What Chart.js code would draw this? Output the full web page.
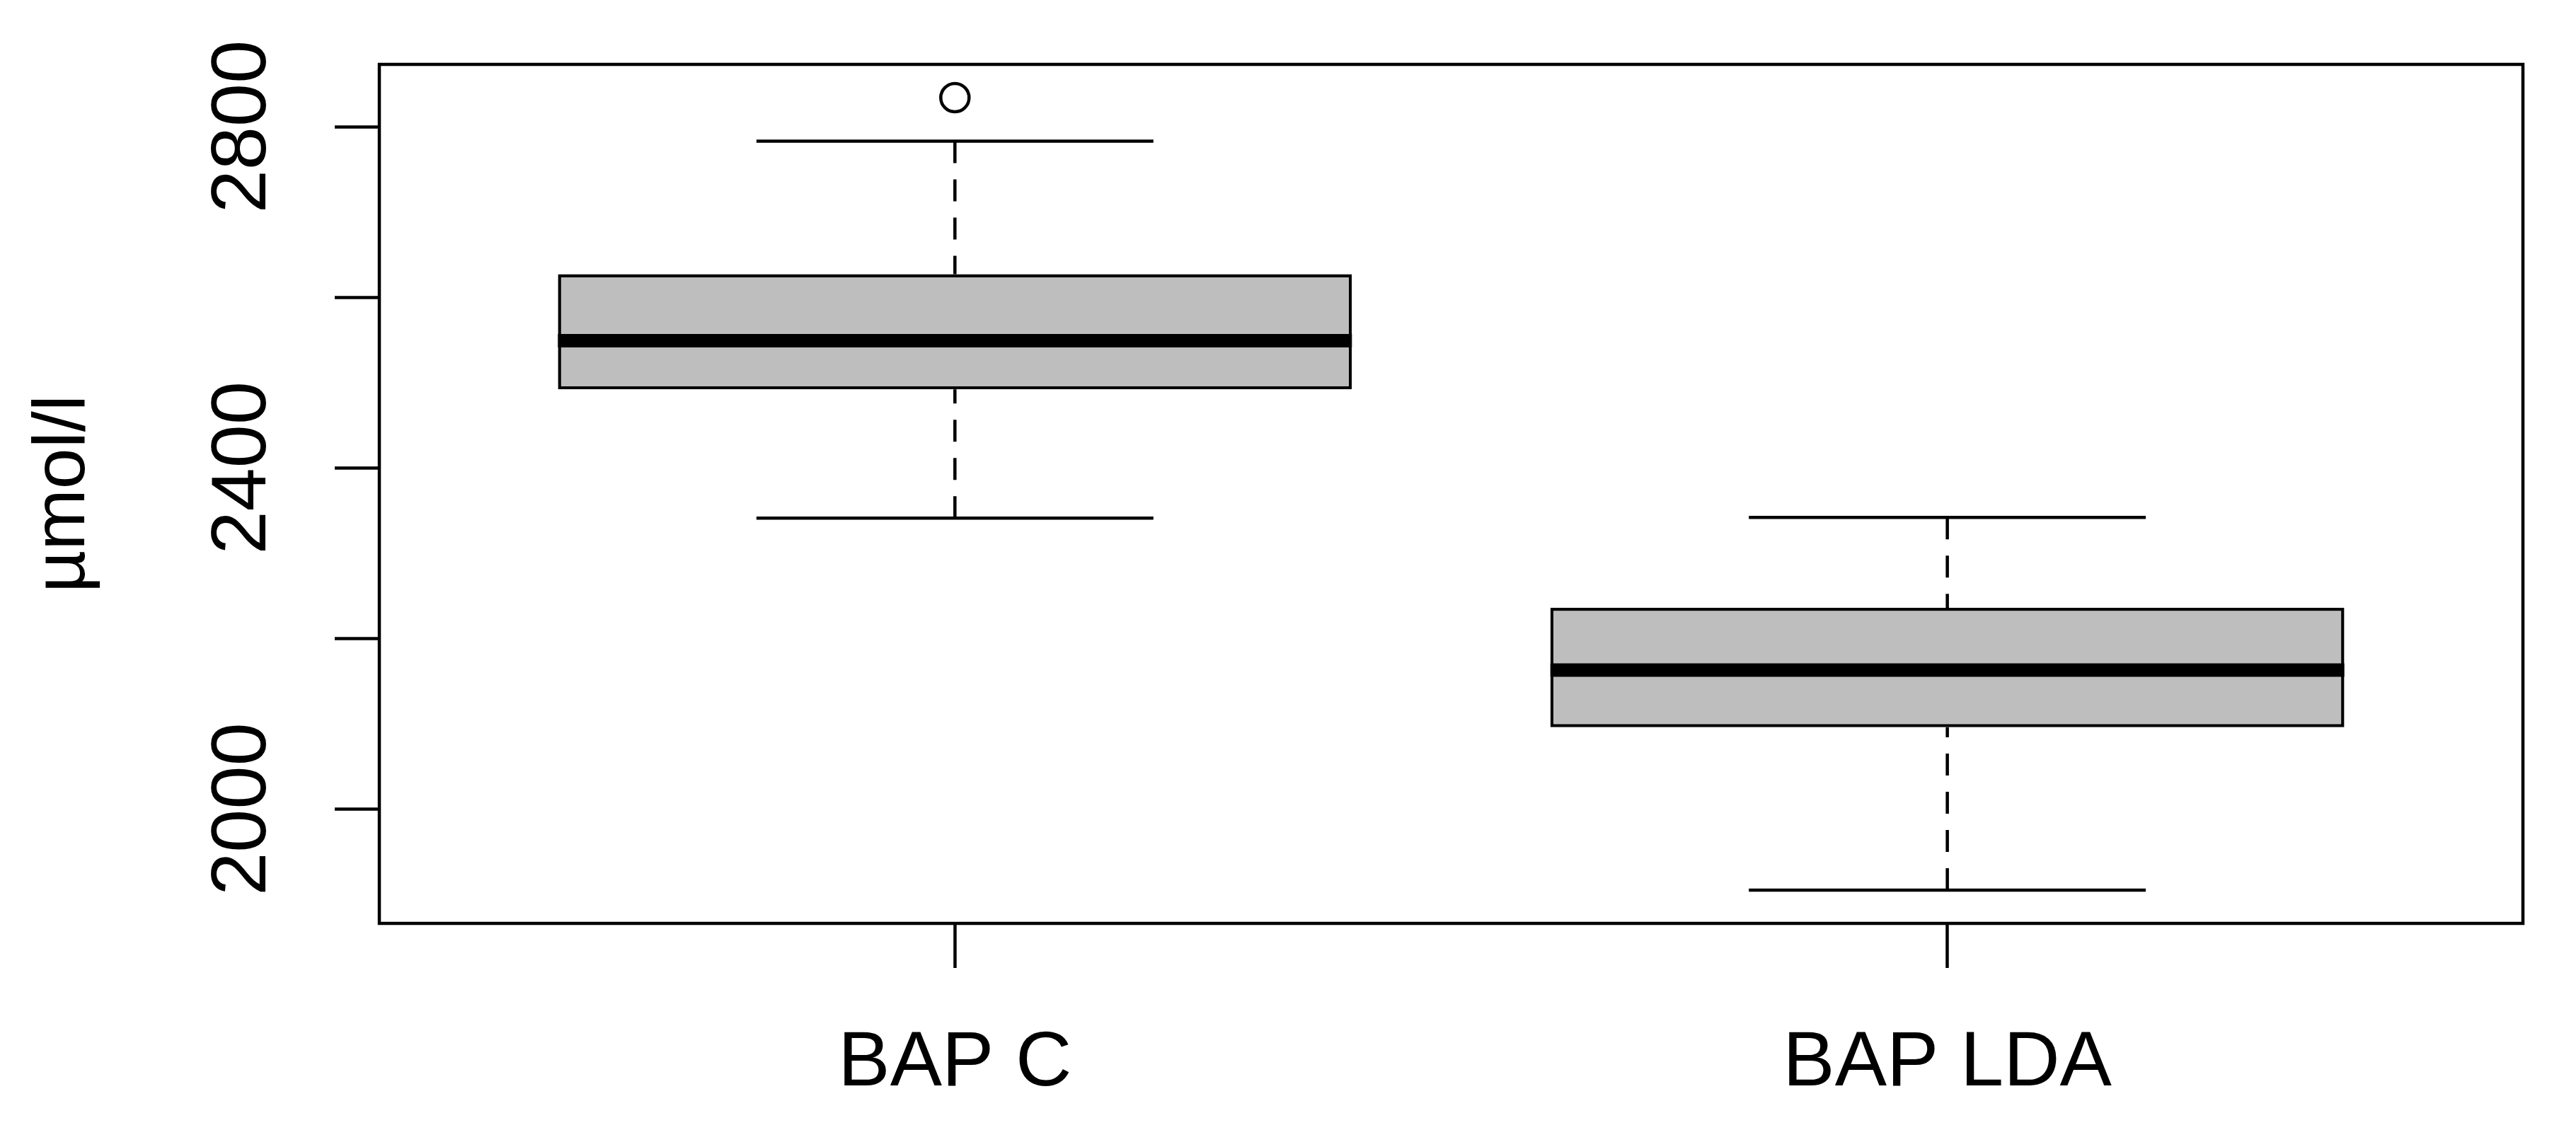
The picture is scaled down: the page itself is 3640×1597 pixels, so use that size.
<!DOCTYPE html>
<html>
<head>
<meta charset="utf-8">
<title>BAP boxplot</title>
<script src="https://cdn.jsdelivr.net/npm/chart.js@4.4.1/dist/chart.umd.min.js"></script>
<style>
    html, body { margin: 0; padding: 0; background: #fff; }
    #wrap { width: 3640px; height: 1597px; }
</style>
</head>
<body>
<div id="wrap"><canvas id="boxChart" width="3640" height="1597"></canvas></div>
<script>
// values (one entry per group)
const categories = ['BAP C', 'BAP LDA'];
const whiskerLow = [2341, 1905];
const q1Values = [2492, 2096];
const medianValues = [2549, 2163];
const q3Values = [2627, 2236];
const whiskerHigh = [2783, 2342];
const outlierValues = [[2834], []];

const yTicks = [2000, 2200, 2400, 2600, 2800];
const yTickLabels = ['2000', '', '2400', '', '2800'];
const yTitle = 'µmol/l';

const BOX_HALF = 0.4;
const CAP_HALF = 0.2;
const LINE_W = 4.5;
const FONT = '"Liberation Sans", Arial, sans-serif';

// several [x1, y1, x2, y2] segments in one line dataset, split by gaps
function segments(list) {
    const pts = [];
    list.forEach((s, i) => {
        if (i > 0) pts.push({ x: s[0], y: null });
        pts.push({ x: s[0], y: s[1] });
        pts.push({ x: s[2], y: s[3] });
    });
    return pts;
}

const whiskerSegs = [];
const capSegs = [];
const medianSegs = [];
categories.forEach((c, i) => {
    const x = i + 1;
    // drawn from the cap towards the box, like R does
    whiskerSegs.push([x, whiskerLow[i], x, q1Values[i]]);
    whiskerSegs.push([x, whiskerHigh[i], x, q3Values[i]]);
    capSegs.push([x - CAP_HALF, whiskerLow[i], x + CAP_HALF, whiskerLow[i]]);
    capSegs.push([x - CAP_HALF, whiskerHigh[i], x + CAP_HALF, whiskerHigh[i]]);
    medianSegs.push([x - BOX_HALF, medianValues[i], x + BOX_HALF, medianValues[i]]);
});

const outlierPts = [];
outlierValues.forEach((list, i) => {
    list.forEach(v => outlierPts.push({ x: i + 1, y: v }));
});

const lineDefaults = {
    type: 'line',
    borderColor: '#000',
    borderCapStyle: 'butt',
    pointRadius: 0,
    fill: false,
    tension: 0
};

// R's box() around the plot region
const frameBox = {
    id: 'frameBox',
    afterDatasetsDraw(chart) {
        const { ctx, chartArea: a } = chart;
        ctx.save();
        ctx.strokeStyle = '#000';
        ctx.lineWidth = LINE_W;
        ctx.strokeRect(a.left, a.top, a.right - a.left, a.bottom - a.top);
        ctx.restore();
    }
};

const tickGrid = {
    display: true,
    drawOnChartArea: false,
    drawTicks: true,
    tickLength: 63,
    tickWidth: LINE_W,
    tickColor: '#000',
    offset: false
};

new Chart(document.getElementById('boxChart'), {
    type: 'bar',
    data: {
        datasets: [
            {
                type: 'line',
                label: 'outliers',
                order: 0,
                showLine: false,
                data: outlierPts,
                pointRadius: 20,
                pointBorderWidth: LINE_W,
                pointBorderColor: '#000',
                pointBackgroundColor: 'rgba(0,0,0,0)'
            },
            Object.assign({}, lineDefaults, {
                label: 'median',
                order: 1,
                data: segments(medianSegs),
                borderWidth: 19
            }),
            Object.assign({}, lineDefaults, {
                label: 'whiskers',
                order: 2,
                data: segments(whiskerSegs),
                borderWidth: LINE_W,
                borderDash: [31, 23]
            }),
            Object.assign({}, lineDefaults, {
                label: 'caps',
                order: 2,
                data: segments(capSegs),
                borderWidth: LINE_W
            }),
            {
                type: 'bar',
                label: 'box',
                order: 3,
                data: categories.map((c, i) => ({ x: i + 1, y: [q1Values[i], q3Values[i]] })),
                backgroundColor: '#bebebe',
                borderColor: '#000',
                borderWidth: LINE_W,
                borderSkipped: false,
                categoryPercentage: BOX_HALF * 2,
                barPercentage: 1
            }
        ]
    },
    options: {
        responsive: false,
        animation: false,
        devicePixelRatio: 1,
        layout: { padding: { left: 0, top: 91, right: 75, bottom: 0 } },
        plugins: {
            legend: { display: false },
            tooltip: { enabled: false }
        },
        scales: {
            x: {
                type: 'linear',
                min: 0.42,
                max: 2.58,
                offset: false,
                afterBuildTicks: axis => {
                    axis.ticks = categories.map((c, i) => ({ value: i + 1 }));
                },
                afterFit: axis => { axis.height = 292; },
                ticks: {
                    autoSkip: false,
                    minRotation: 0,
                    maxRotation: 0,
                    padding: 70,
                    color: '#000',
                    font: { family: FONT, size: 110 },
                    callback: value => categories[value - 1]
                },
                grid: tickGrid,
                border: { display: false }
            },
            y: {
                type: 'linear',
                min: 1866,
                max: 2873,
                afterBuildTicks: axis => {
                    axis.ticks = yTicks.map(v => ({ value: v }));
                },
                afterFit: axis => { axis.width = 536; },
                ticks: {
                    autoSkip: false,
                    minRotation: 90,
                    maxRotation: 90,
                    crossAlign: 'center',
                    padding: 6,
                    color: '#000',
                    font: { family: FONT, size: 110 },
                    callback: value => yTickLabels[yTicks.indexOf(value)]
                },
                grid: tickGrid,
                border: { display: false },
                title: {
                    display: true,
                    text: yTitle,
                    color: '#000',
                    padding: { top: 28, bottom: 0 },
                    font: { family: FONT, size: 104 }
                }
            }
        }
    },
    plugins: [frameBox]
});
</script>
</body>
</html>
